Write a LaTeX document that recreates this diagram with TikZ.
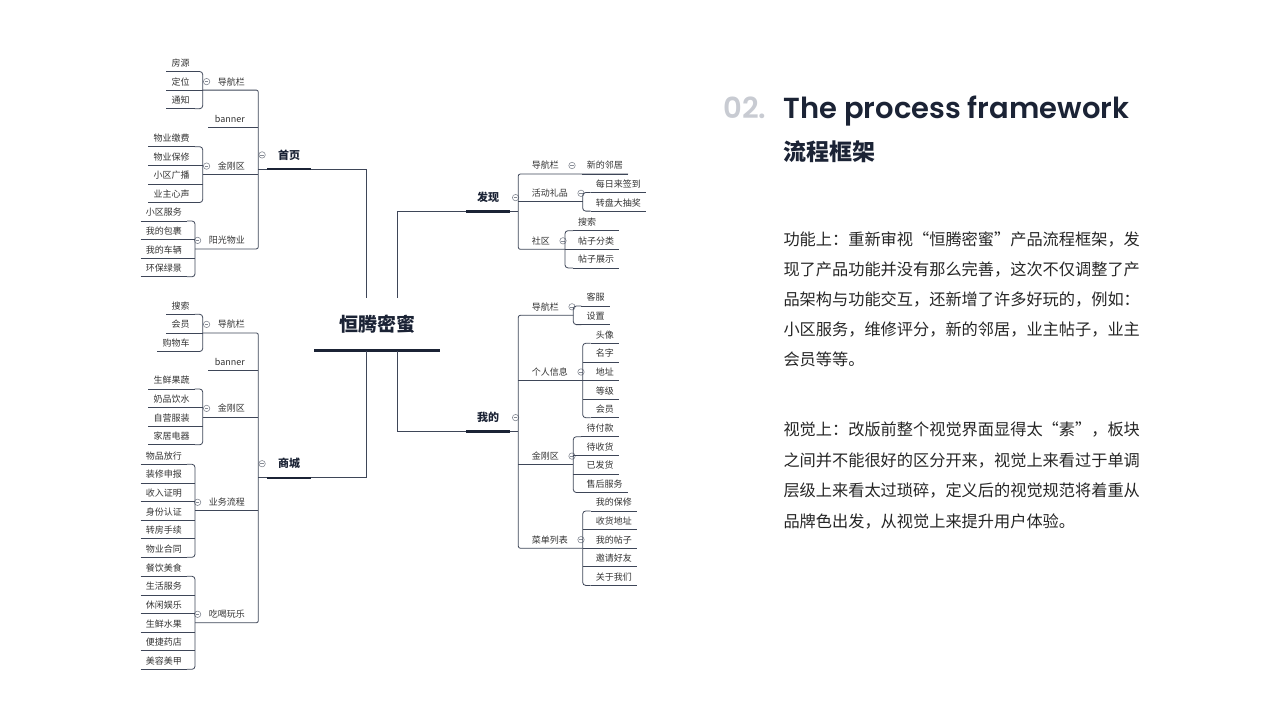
\documentclass[tikz,border=0pt]{standalone}
\usepackage{fontspec}
\setmainfont{Noto Sans CJK SC}
\newfontfamily\titlefont{Poppins SemiBold}
\usetikzlibrary{positioning,calc}
\definecolor{inkdark}{HTML}{1B2335}
\definecolor{linkgray}{HTML}{3E4658}
\definecolor{knobgray}{HTML}{868B95}
\definecolor{leafink}{HTML}{333333}
\definecolor{numgray}{HTML}{C8CBD2}
\definecolor{bodyink}{HTML}{262626}
\tikzset{
  hub/.style={font=\fontsize{19}{22}\selectfont\bfseries, text=inkdark,
    minimum width=125.7pt, minimum height=52.7pt, inner sep=0pt,
    text height=16.7pt, text depth=2.3pt},
  topic/.style={font=\fontsize{11}{13}\selectfont\bfseries, text=inkdark,
    minimum width=42.8pt, inner xsep=0pt, inner ysep=2pt,
    text height=16pt, text depth=7.8pt},
  lab/.style={font=\fontsize{9}{11}\selectfont, text=leafink, inner xsep=0pt,
    inner ysep=2pt, text height=9.7pt, text depth=2.9pt},
  link/.style={draw=linkgray, line width=0.8pt},
  elbow/.style={link, rounded corners=3pt},
  bar/.style={draw=inkdark, line width=2.6pt},
  % a leaf carries its own underline
  leaf/.style={lab, inner xsep=5pt,
    append after command={(\tikzlastnode.south west) edge[link] (\tikzlastnode.south east)}},
  knob/.style={circle, draw=knobgray, fill=white, line width=0.6pt,
    minimum size=6.4pt, inner sep=0pt,
    path picture={\draw[knobgray, line width=0.5pt]
      ([xshift=-1.7pt]path picture bounding box.center) --
      ([xshift=1.7pt]path picture bounding box.center);}},
  heading/.style={anchor=base west, inner sep=0pt,
    font=\titlefont\fontsize{29}{32}\selectfont},
  body/.style={font=\fontsize{16.2}{20}\selectfont, text=bodyink, inner sep=0pt},
}
\begin{document}
\begin{tikzpicture}[x=1pt,y=-1pt]
  \useasboundingbox (0,0) rectangle (1280,720);

  \node[hub] (hub) at (377.15,324.35) {恒腾密蜜};
  \draw[bar, line width=3pt] (hub.south west) -- (hub.south east);

  % 首页
  \node[topic, anchor=south] (home) at (289,169) {首页};
  \node[knob, left=1.8pt of home] (homeo) {};
  \draw[bar] (home.south west) -- (home.south east);
  \draw[link] (home.south east) -| ([xshift=-11.2pt]hub.north);
  \coordinate (htr) at (258.3,169);
  \draw[link] (htr) -- (home.south west);

  \node[lab, anchor=south east] (hnav) at (245,90.1) {导航栏};
  \node[knob, left=7.5pt of hnav] (hnavo) {};
  \coordinate (hs1) at (202.7,90.1);
  \foreach \w [count=\i] in {房源,定位,通知}
    \node[leaf, anchor=south east] (hnav\i) at (194.7,{71.5+18.6*(\i-1)}) {\w};
  \draw[elbow] (hnav1.south east) -| (hs1) |- (hnav3.south east);
  \draw[link] (hnav2.south east) -- (hnav2.south east -| hs1);

  \node[lab, anchor=south east, inner xsep=6.5pt] (hban) at (251.5,127.3) {banner};
  \draw[link] (hban.south west) -- (hban.south west -| htr);

  \node[lab, anchor=south east] (hjg) at (245,174.6) {金刚区};
  \node[knob, left=7.5pt of hjg] (hjgo) {};
  \coordinate (hs3) at (202.7,174.6);
  \foreach \w [count=\i] in {物业缴费,物业保修,小区广播,业主心声}
    \node[leaf, anchor=south east] (hjg\i) at (194.7,{146.7+18.6*(\i-1)}) {\w};
  \draw[elbow] (hjg1.south east) -| (hs3) |- (hjg4.south east);
  \foreach \i in {2,3} \draw[link] (hjg\i.south east) -- (hjg\i.south east -| hs3);

  \node[lab, anchor=south east] (hyg) at (245,248.9) {阳光物业};
  \node[knob, left=7.5pt of hyg] (hygo) {};
  \coordinate (hs4) at (195,248.9);
  \foreach \w [count=\i] in {小区服务,我的包裹,我的车辆,环保绿景}
    \node[leaf, anchor=south east] (hyg\i) at (187,{221+18.6*(\i-1)}) {\w};
  \draw[elbow] (hyg1.south east) -| (hs4) |- (hyg4.south east);
  \foreach \i in {2,3} \draw[link] (hyg\i.south east) -- (hyg\i.south east -| hs4);

  \draw[link, rounded corners=2pt] (hs1) -| (htr) |- (hs4);
  \draw[link] (hs3) -- (hs3 -| htr);

  % 商城
  \node[topic, anchor=south] (mall) at (289,477.8) {商城};
  \node[knob, left=1.8pt of mall] (mallo) {};
  \draw[bar] (mall.south west) -- (mall.south east);
  \draw[link] (mall.south east) -| ([xshift=-11.2pt]hub.south);
  \coordinate (str) at (258.3,477.8);
  \draw[link] (str) -- (mall.south west);

  \node[lab, anchor=south east] (snav) at (245,332.9) {导航栏};
  \node[knob, left=7.5pt of snav] (snavo) {};
  \coordinate (ss1) at (202.7,332.9);
  \foreach \w [count=\i] in {搜索,会员,购物车}
    \node[leaf, anchor=south east] (snav\i) at (194.7,{314.3+18.6*(\i-1)}) {\w};
  \draw[elbow] (snav1.south east) -| (ss1) |- (snav3.south east);
  \draw[link] (snav2.south east) -- (snav2.south east -| ss1);

  \node[lab, anchor=south east, inner xsep=6.5pt] (sban) at (251.5,370.7) {banner};
  \draw[link] (sban.south west) -- (sban.south west -| str);

  \node[lab, anchor=south east] (sjg) at (245,416.9) {金刚区};
  \node[knob, left=7.5pt of sjg] (sjgo) {};
  \coordinate (ss3) at (202.7,416.9);
  \foreach \w [count=\i] in {生鲜果蔬,奶品饮水,自营服装,家居电器}
    \node[leaf, anchor=south east] (sjg\i) at (194.7,{389+18.6*(\i-1)}) {\w};
  \draw[elbow] (sjg1.south east) -| (ss3) |- (sjg4.south east);
  \foreach \i in {2,3} \draw[link] (sjg\i.south east) -- (sjg\i.south east -| ss3);

  \node[lab, anchor=south east] (syw) at (245,510.8) {业务流程};
  \node[knob, left=7.5pt of syw] (sywo) {};
  \coordinate (ss4) at (195,510.8);
  \foreach \w [count=\i] in {物品放行,装修申报,收入证明,身份认证,转房手续,物业合同}
    \node[leaf, anchor=south east] (syw\i) at (187,{464.3+18.6*(\i-1)}) {\w};
  \draw[elbow] (syw1.south east) -| (ss4) |- (syw6.south east);
  \foreach \i in {2,...,5} \draw[link] (syw\i.south east) -- (syw\i.south east -| ss4);

  \node[lab, anchor=south east] (scw) at (245,622.8) {吃喝玩乐};
  \node[knob, left=7.5pt of scw] (scwo) {};
  \coordinate (ss5) at (195,622.8);
  \foreach \w [count=\i] in {餐饮美食,生活服务,休闲娱乐,生鲜水果,便捷药店,美容美甲}
    \node[leaf, anchor=south east] (scw\i) at (187,{576.3+18.6*(\i-1)}) {\w};
  \draw[elbow] (scw1.south east) -| (ss5) |- (scw6.south east);
  \foreach \i in {2,...,5} \draw[link] (scw\i.south east) -- (scw\i.south east -| ss5);

  \draw[link, rounded corners=2pt] (ss1) -| (str) |- (ss5);
  \draw[link] (ss3) -- (ss3 -| str);
  \draw[link] (ss4) -- (ss4 -| str);

  % 发现
  \node[topic, anchor=south] (find) at (488,211.7) {发现};
  \node[knob, right=2.5pt of find] (findo) {};
  \draw[bar] (find.south west) -- (find.south east);
  \draw[link] (find.south west) -| ([xshift=20.6pt]hub.north);
  \coordinate (ftr) at (518.3,211.7);
  \draw[link] (find.south east) -- (ftr);

  \node[lab, anchor=south west] (fnav) at (531.7,174) {导航栏};
  \node[knob, right=9.4pt of fnav] (fnavo) {};
  \node[leaf, anchor=south west] (fnav1) at (581.7,174) {新的邻居};

  \node[lab, anchor=south west] (fhd) at (531.7,201.8) {活动礼品};
  \node[knob, right=9.4pt of fhd] (fhdo) {};
  \coordinate (fs2) at (582.7,201.8);
  \foreach \w [count=\i] in {每日来签到,转盘大抽奖}
    \node[leaf, anchor=south west] (fhd\i) at (590.7,{192.5+18.6*(\i-1)}) {\w};
  \draw[elbow] (fhd1.south west) -| (fs2) |- (fhd2.south west);

  \node[lab, anchor=south west] (fsq) at (531.7,249.3) {社区};
  \node[knob, right=9.4pt of fsq] (fsqo) {};
  \coordinate (fs3) at (565,249.3);
  \foreach \w [count=\i] in {搜索,帖子分类,帖子展示}
    \node[leaf, anchor=south west] (fsq\i) at (573,{230.7+18.6*(\i-1)}) {\w};
  \draw[link] (fsq1.south east) -- (fsq1.south east -| fsq2.south east);
  \draw[elbow] (fsq1.south west) -| (fs3) |- (fsq3.south west);
  \draw[link] (fsq2.south west) -- (fsq2.south west -| fs3);

  \draw[link, rounded corners=2pt] (fnav1.south east) -| (ftr) |- (fs3);
  \draw[link] (fs2) -- (fs2 -| ftr);

  % 我的
  \node[topic, anchor=south] (mine) at (488,431.7) {我的};
  \node[knob, right=2.5pt of mine] (mineo) {};
  \draw[bar] (mine.south west) -- (mine.south east);
  \draw[link] (mine.south west) -| ([xshift=20.6pt]hub.south);
  \coordinate (mtr) at (518.3,431.7);
  \draw[link] (mine.south east) -- (mtr);

  \node[lab, anchor=south west] (mnav) at (531.7,315.3) {导航栏};
  \node[knob, right=9.4pt of mnav] (mnavo) {};
  \coordinate (ms1) at (573.3,315.3);
  \foreach \w [count=\i] in {客服,设置}
    \node[leaf, anchor=south west] (mnav\i) at (581.3,{306+18.6*(\i-1)}) {\w};
  \draw[elbow] (mnav1.south west) -| (ms1) |- (mnav2.south west);

  \node[lab, anchor=south west] (mgr) at (531.7,380.5) {个人信息};
  \node[knob, right=9.4pt of mgr] (mgro) {};
  \coordinate (ms2) at (582.7,380.5);
  \foreach \w [count=\i] in {头像,名字,地址,等级,会员}
    \node[leaf, anchor=south west] (mgr\i) at (590.7,{343.3+18.6*(\i-1)}) {\w};
  \draw[elbow] (mgr1.south west) -| (ms2) |- (mgr5.south west);
  \foreach \i in {2,3,4} \draw[link] (mgr\i.south west) -- (mgr\i.south west -| ms2);

  \node[lab, anchor=south west] (mjg) at (531.7,464.6) {金刚区};
  \node[knob, right=9.4pt of mjg] (mjgo) {};
  \coordinate (ms3) at (573.3,464.6);
  \foreach \w [count=\i] in {待付款,待收货,已发货,售后服务}
    \node[leaf, anchor=south west] (mjg\i) at (581.3,{436.7+18.6*(\i-1)}) {\w};
  \draw[elbow] (mjg1.south west) -| (ms3) |- (mjg4.south west);
  \foreach \i in {2,3} \draw[link] (mjg\i.south west) -- (mjg\i.south west -| ms3);

  \node[lab, anchor=south west] (mcd) at (531.7,548.2) {菜单列表};
  \node[knob, right=9.4pt of mcd] (mcdo) {};
  \coordinate (ms4) at (582.7,548.2);
  \foreach \w [count=\i] in {我的保修,收货地址,我的帖子,邀请好友,关于我们}
    \node[leaf, anchor=south west] (mcd\i) at (590.7,{511+18.6*(\i-1)}) {\w};
  \draw[elbow] (mcd1.south west) -| (ms4) |- (mcd5.south west);
  \foreach \i in {2,3,4} \draw[link] (mcd\i.south west) -- (mcd\i.south west -| ms4);

  \draw[link, rounded corners=2pt] (ms1) -| (mtr) |- (ms4);
  \draw[link] (ms2) -- (ms2 -| mtr);
  \draw[link] (ms3) -- (ms3 -| mtr);

  % heading and notes
  \node[heading, text=numgray] (num) at (723.3,118.3) {02.};
  \node[heading, text=inkdark] (title) at (783.3,118.3) {The process framework};
  \node[anchor=base west, inner sep=0pt, text=inkdark,
    font=\fontsize{23}{26}\selectfont\bfseries] (subtitle) at (783.3,160.5) {流程框架};
  \foreach \ln [count=\k from 0] in {功能上：重新审视“恒腾密蜜”产品流程框架，发,
      现了产品功能并没有那么完善，这次不仅调整了产,
      品架构与功能交互，还新增了许多好玩的，例如：,
      小区服务，维修评分，新的邻居，业主帖子，业主,
      会员等等。}
    \node[body, anchor=base west] (pa\k) at (783.3,{245.5+30*\k}) {\ln};
  \foreach \ln [count=\k from 0] in {视觉上：改版前整个视觉界面显得太“素”，板块,
      之间并不能很好的区分开来，视觉上来看过于单调,
      层级上来看太过琐碎，定义后的视觉规范将着重从,
      品牌色出发，从视觉上来提升用户体验。}
    \node[body, anchor=base west] (pb\k) at (783.3,{435.5+30.5*\k}) {\ln};
\end{tikzpicture}
\end{document}
